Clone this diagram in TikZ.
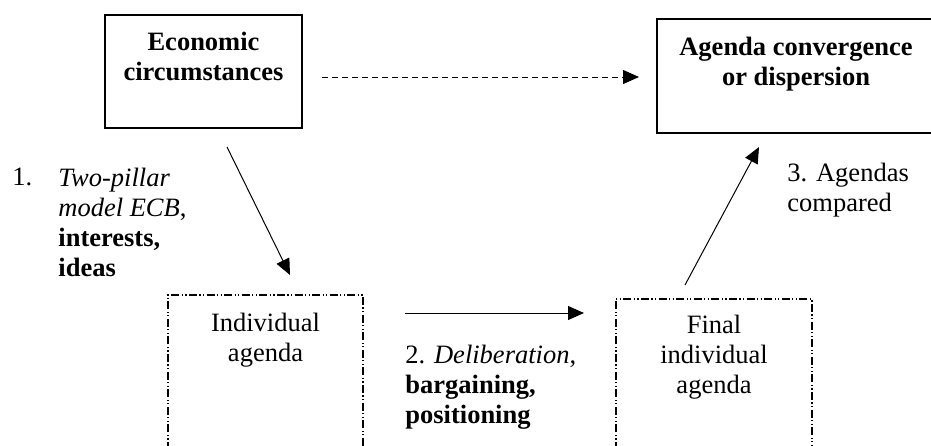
\documentclass[tikz,border=0pt]{standalone}
\usepackage{fontspec}
\setmainfont{Liberation Serif}
\usetikzlibrary{arrows.meta}

\newcommand{\dgfont}{\fontsize{13.25pt}{15pt}\selectfont}

\begin{document}
\begin{tikzpicture}[x=0.5pt, y=-0.5pt,
    every node/.style={font=\dgfont, inner sep=0pt},
    solidbox/.style={draw, line width=0.7pt, align=center, font=\dgfont\bfseries},
    ddline/.style={line width=0.6pt, dash pattern=on 4pt off 1.2pt on 0.6pt off 1.2pt on 0.6pt off 1.2pt},
    arr/.style={line width=0.5pt, -{Triangle[length=8pt,width=7pt]}},
    darr/.style={arr, dash pattern=on 3pt off 2pt}]
  \clip (0,0) rectangle (931,445);

  % solid boxes
  \node[solidbox, minimum width=98.5pt, minimum height=56.5pt] (econ) at (203.5,71.5)
    {Economic\\circumstances\\\mbox{}};
  \node[solidbox, minimum width=139pt, minimum height=57pt] (conv) at (796,76)
    {Agenda convergence\\or dispersion\\\mbox{}};

  % open dash-dot boxes
  \draw[ddline] (168,450) |- (363,295) -- (363,450);
  \draw[ddline] (616,450) |- (812,299) -- (812,450);
  \node[align=center] (indiv) at (265.5,340) {Individual\\agenda};
  \node[align=center] (final) at (714,357) {Final\\individual\\agenda};

  % labels
  \node[anchor=west] (one) at (12,177) {1.};
  \node[anchor=west, align=left] (step1) at (58,222)
    {\textit{Two-pillar}\\\textit{model ECB},\\\textbf{interests,}\\\textbf{ideas}};
  \node[anchor=west, align=left] (step2) at (405,387)
    {2. \textit{Deliberation},\\\textbf{bargaining,}\\\textbf{positioning}};
  \node[anchor=west, align=left] (step3) at (787,190)
    {3. Agendas\\compared};

  % arrows
  \coordinate (c0a) at (322,77);
  \coordinate (c0b) at (639,77);
  \coordinate (c1a) at (227,147);
  \coordinate (c1b) at (290,275);
  \coordinate (c2a) at (405,313);
  \coordinate (c2b) at (584,313);
  \coordinate (c3a) at (685,285);
  \coordinate (c3b) at (759,147);
  \draw[darr] (c0a) -- (c0b);
  \draw[arr] (c1a) -- (c1b);
  \draw[arr] (c2a) -- (c2b);
  \draw[arr] (c3a) -- (c3b);
\end{tikzpicture}
\end{document}
